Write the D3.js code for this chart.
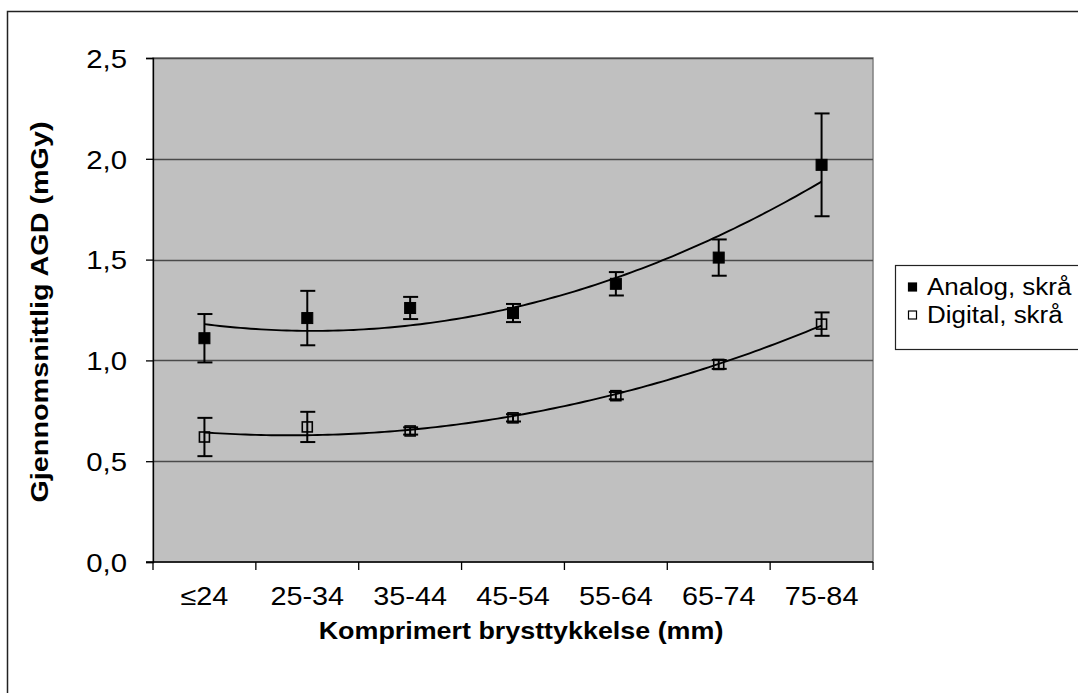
<!DOCTYPE html>
<html>
<head>
<meta charset="utf-8">
<script src="https://cdn.jsdelivr.net/npm/d3@7/dist/d3.min.js"></script>
<style>
  html, body { margin: 0; padding: 0; background: #fff; }
  svg { display: block; font-family: "Liberation Sans", Arial, sans-serif; }
</style>
</head>
<body>
<svg id="chart" width="1078" height="693"></svg>
<script>
// Mean glandular dose by compressed breast thickness
const categories = ["≤24", "25-34", "35-44", "45-54", "55-64", "65-74", "75-84"];
const analogMean = [1.11, 1.21, 1.26, 1.235, 1.38, 1.51, 1.97];
const analogErr  = [0.12, 0.135, 0.055, 0.045, 0.058, 0.09, 0.255];
const digitalMean = [0.62, 0.67, 0.65, 0.715, 0.825, 0.98, 1.18];
const digitalErr  = [0.095, 0.075, 0.018, 0.018, 0.018, 0.022, 0.058];
const yTicks = [0, 0.5, 1.0, 1.5, 2.0, 2.5];
const seriesNames = ["Analog, skrå", "Digital, skrå"];
const xTitle = "Komprimert brysttykkelse (mm)";
const yTitle = "Gjennomsnittlig AGD (mGy)";

const svg = d3.select("#chart");
const plot = { left: 153, right: 873, top: 58, bottom: 562 };
const stretch = 1.13; // text is set slightly wide

const nbLocale = d3.formatLocale({ decimal: ",", thousands: " ", grouping: [3], currency: ["", " kr"] });
const fmt = nbLocale.format(".1f");

const x = d3.scaleBand().domain(categories).range([plot.left, plot.right]).padding(0);
const y = d3.scaleLinear().domain([0, 2.5]).range([plot.bottom, plot.top]);
const cx = c => x(c) + x.bandwidth() / 2;
// continuous position along the category index, used for the trendlines
const xi = d3.scaleLinear().domain([0, categories.length - 1]).range([cx(categories[0]), cx(categories[categories.length - 1])]);

// outer chart frame (runs past the right and bottom edges)
svg.append("rect")
  .attr("x", 7.5).attr("y", 11.5).attr("width", 1100).attr("height", 700)
  .attr("fill", "#fff").attr("stroke", "#222").attr("stroke-width", 1.5);

// plot background
svg.append("rect")
  .attr("x", plot.left).attr("y", plot.top)
  .attr("width", plot.right - plot.left).attr("height", plot.bottom - plot.top)
  .attr("fill", "#c0c0c0").attr("stroke", "#808080").attr("stroke-width", 1.5);

// horizontal gridlines
svg.append("g").selectAll("line").data(yTicks.filter(v => v > 0)).join("line")
  .attr("x1", plot.left).attr("x2", plot.right)
  .attr("y1", d => Math.round(y(d)) + 0.5).attr("y2", d => Math.round(y(d)) + 0.5)
  .attr("stroke", "#4a4a4a").attr("stroke-width", 1.4);

// y axis
const yAxis = svg.append("g")
  .attr("transform", `translate(${plot.left},0)`)
  .call(d3.axisLeft(y).tickValues(yTicks).tickFormat(fmt).tickSize(7));
yAxis.select(".domain").attr("stroke", "#000").attr("stroke-width", 1.3);
yAxis.selectAll(".tick line").attr("stroke", "#000").attr("stroke-width", 1.3);
yAxis.selectAll(".tick text")
  .attr("font-size", 26).attr("fill", "#000")
  .attr("font-family", "Liberation Sans, Arial, sans-serif")
  .attr("transform", `scale(${stretch},1)`)
  .attr("x", -26 / stretch).attr("dy", "0.36em");

// x axis: ticks on category boundaries
const xAxisG = svg.append("g");
xAxisG.append("line")
  .attr("x1", plot.left - 7).attr("x2", plot.right)
  .attr("y1", plot.bottom).attr("y2", plot.bottom)
  .attr("stroke", "#000").attr("stroke-width", 1.3);
const boundaries = categories.map(c => x(c)).concat([plot.right]);
xAxisG.selectAll("line.tk").data(boundaries).join("line").attr("class", "tk")
  .attr("x1", d => d).attr("x2", d => d)
  .attr("y1", plot.bottom).attr("y2", plot.bottom + 8)
  .attr("stroke", "#000").attr("stroke-width", 1.3);
xAxisG.selectAll("text").data(categories).join("text")
  .attr("transform", d => `translate(${cx(d)},605) scale(${stretch},1)`)
  .attr("text-anchor", "middle")
  .attr("font-size", 25.5).attr("fill", "#000")
  .text(d => d);

// axis titles
svg.append("text")
  .attr("transform", `translate(${(plot.left + plot.right) / 2 + 8},639) scale(1.12,1)`)
  .attr("text-anchor", "middle").attr("font-size", 24).attr("font-weight", "bold")
  .text(xTitle);
svg.append("text")
  .attr("transform", `translate(48,${(plot.top + plot.bottom) / 2 + 2}) rotate(-90) scale(1.2,1)`)
  .attr("text-anchor", "middle").attr("font-size", 24).attr("font-weight", "bold")
  .text(yTitle);

// 2nd-order polynomial least-squares trendline
function quadFit(values) {
  let s = [0, 0, 0, 0, 0], r = [0, 0, 0];
  values.forEach((v, i) => {
    for (let k = 0; k < 5; k++) s[k] += Math.pow(i, k);
    for (let k = 0; k < 3; k++) r[k] += v * Math.pow(i, k);
  });
  const M = [[s[0], s[1], s[2], r[0]], [s[1], s[2], s[3], r[1]], [s[2], s[3], s[4], r[2]]];
  for (let i = 0; i < 3; i++) {
    for (let j = i + 1; j < 3; j++) {
      const f = M[j][i] / M[i][i];
      for (let k = i; k < 4; k++) M[j][k] -= f * M[i][k];
    }
  }
  const c = [0, 0, 0];
  for (let i = 2; i >= 0; i--) {
    let sum = M[i][3];
    for (let k = i + 1; k < 3; k++) sum -= M[i][k] * c[k];
    c[i] = sum / M[i][i];
  }
  return t => c[0] + c[1] * t + c[2] * t * t;
}

const line = d3.line().x(d => xi(d[0])).y(d => y(d[1]));
[analogMean, digitalMean].forEach(vals => {
  const f = quadFit(vals);
  const pts = d3.range(0, categories.length - 1 + 1e-9, 0.05).map(t => [t, f(t)]);
  svg.append("path").attr("d", line(pts))
    .attr("fill", "none").attr("stroke", "#000").attr("stroke-width", 1.9);
});

// error bars and markers
function drawSeries(means, errs, filled) {
  const g = svg.append("g");
  const data = categories.map((c, i) => ({ c, v: means[i], e: errs[i] }));
  g.selectAll("line.eb").data(data).join("line").attr("class", "eb")
    .attr("x1", d => cx(d.c)).attr("x2", d => cx(d.c))
    .attr("y1", d => y(d.v + d.e)).attr("y2", d => y(d.v - d.e))
    .attr("stroke", "#000").attr("stroke-width", 2);
  ["t", "b"].forEach(s => {
    g.selectAll("line.cap" + s).data(data).join("line")
      .attr("class", "cap" + s)
      .attr("x1", d => cx(d.c) - 7).attr("x2", d => cx(d.c) + 8)
      .attr("y1", d => y(s === "t" ? d.v + d.e : d.v - d.e))
      .attr("y2", d => y(s === "t" ? d.v + d.e : d.v - d.e))
      .attr("stroke", "#000").attr("stroke-width", 2);
  });
  const size = filled ? 11 : 10;
  g.selectAll("rect").data(data).join("rect")
    .attr("x", d => cx(d.c) - size / 2).attr("y", d => y(d.v) - size / 2)
    .attr("width", size).attr("height", size)
    .attr("fill", filled ? "#000" : "none")
    .attr("stroke", "#000").attr("stroke-width", filled ? 1 : 1.6);
}
drawSeries(analogMean, analogErr, true);
drawSeries(digitalMean, digitalErr, false);

// legend
const lg = svg.append("g");
lg.append("rect").attr("x", 895.5).attr("y", 265.5).attr("width", 200).attr("height", 84)
  .attr("fill", "#fff").attr("stroke", "#222").attr("stroke-width", 1.2);
seriesNames.forEach((name, i) => {
  const cy = 287 + i * 28;
  lg.append("rect").attr("x", 908.5).attr("y", cy - 4).attr("width", 8).attr("height", 8)
    .attr("fill", i === 0 ? "#000" : "#fff").attr("stroke", "#000").attr("stroke-width", 1.2);
  lg.append("text")
    .attr("transform", `translate(927,${cy + 8}) scale(${stretch},1)`)
    .attr("font-size", 23).attr("fill", "#000").text(name);
});
</script>
</body>
</html>
